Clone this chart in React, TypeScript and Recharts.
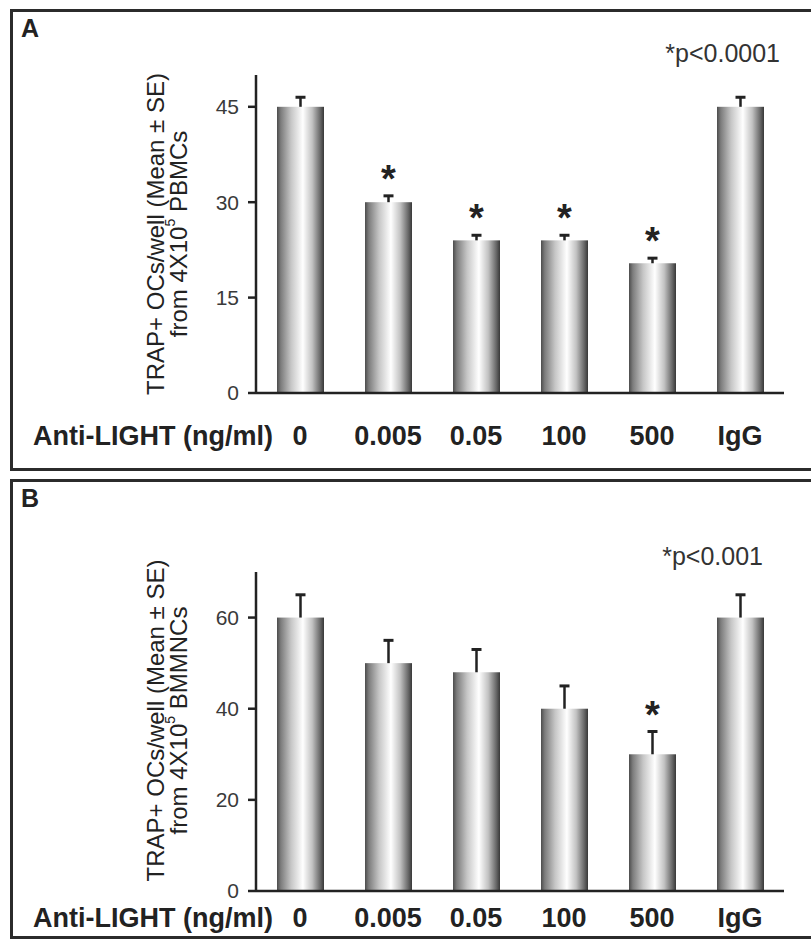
import { Bar, BarChart, Label, XAxis, YAxis } from "recharts";

const doses = ["0", "0.005", "0.05", "100", "500", "IgG"];

// A: PBMC cultures
const pbmcMeans = [45, 30, 24, 24, 20.4, 45];
const pbmcErrors = [1.5, 1, 0.8, 0.8, 0.8, 1.5];
const pbmcSignificant = [false, true, true, true, true, false];
const pbmcTicks = [0, 15, 30, 45];

// B: BMMNC cultures
const bmmncMeans = [60, 50, 48, 40, 30, 60];
const bmmncErrors = [5, 5, 5, 5, 5, 5];
const bmmncSignificant = [false, false, false, false, true, false];
const bmmncTicks = [0, 20, 40, 60];

const FONT = '"Liberation Sans", Arial, Helvetica, sans-serif';
const INK = "#222";

type Row = { dose: string; mean: number; err: number; star: boolean };

function buildRows(means: number[], errors: number[], stars: boolean[]): Row[] {
  return doses.map((dose, i) => ({ dose, mean: means[i], err: errors[i], star: stars[i] }));
}

function GlassBar(props: any) {
  const { x, y, width, height, payload, fillId } = props;
  const cx = x + width / 2;
  // error bar length in pixels, taken from the bar's own scale
  const errPx = payload.mean > 0 ? (height / payload.mean) * payload.err : 0;
  const top = y - errPx;
  return (
    <g>
      <rect x={x} y={y} width={width} height={height} fill={`url(#${fillId})`} />
      <line x1={cx} y1={y} x2={cx} y2={top} stroke={INK} strokeWidth={2.5} />
      <line x1={cx - 5} y1={top} x2={cx + 5} y2={top} stroke={INK} strokeWidth={3} />
      {payload.star && (
        <text
          x={cx}
          y={top - 4}
          textAnchor="middle"
          fontSize={38}
          fontWeight="bold"
          fill={INK}
          fontFamily={FONT}
        >
          *
        </text>
      )}
    </g>
  );
}

function DoseTick({ x, y, payload, dy }: any) {
  return (
    <text
      x={x}
      y={y + dy}
      textAnchor="middle"
      fontSize={27}
      fontWeight="bold"
      fill={INK}
      fontFamily={FONT}
    >
      {payload.value}
    </text>
  );
}

type PanelProps = {
  id: string;
  rows: Row[];
  ticks: number[];
  yMax: number;
  top: number;
  height: number;
  marginTop: number;
  axisHeight: number;
  tickDy: number;
  pText: string;
  pDx: number;
  pDy: number;
  cells: string;
  titleShift: number;
};

function Panel(p: PanelProps) {
  const fillId = `glass-${p.id}`;
  return (
    <div style={{ position: "absolute", left: 0, top: p.top }}>
      <BarChart
        width={811}
        height={p.height}
        data={p.rows}
        margin={{ top: p.marginTop, right: 27, bottom: 0, left: 0 }}
        barSize={47}
      >
        <defs>
          <linearGradient id={fillId} x1="0" y1="0" x2="1" y2="0">
            <stop offset="0%" stopColor="#4c4c4c" />
            <stop offset="8%" stopColor="#7c7c7c" />
            <stop offset="30%" stopColor="#c6c6c6" />
            <stop offset="55%" stopColor="#ffffff" />
            <stop offset="75%" stopColor="#c2c2c2" />
            <stop offset="92%" stopColor="#686868" />
            <stop offset="100%" stopColor="#383838" />
          </linearGradient>
        </defs>
        <XAxis
          dataKey="dose"
          height={p.axisHeight}
          interval={0}
          tickLine={false}
          tickSize={0}
          tickMargin={0}
          axisLine={{ stroke: INK, strokeWidth: 2.5 }}
          tick={<DoseTick dy={p.tickDy} />}
        >
          <Label
            content={(lp: any) => (
              <g fontFamily={FONT}>
                <text
                  x={lp.viewBox.x - 223}
                  y={lp.viewBox.y + p.tickDy}
                  fontSize={27}
                  fontWeight="bold"
                  fill={INK}
                >
                  Anti-LIGHT (ng/ml)
                </text>
                <text
                  x={lp.viewBox.x + lp.viewBox.width + p.pDx}
                  y={p.marginTop + p.pDy}
                  textAnchor="end"
                  fontSize={25}
                  fill="#333"
                >
                  {p.pText}
                </text>
              </g>
            )}
          />
        </XAxis>
        <XAxis
          xAxisId="top"
          orientation="top"
          dataKey="dose"
          height={0}
          tick={false}
          tickLine={false}
          axisLine={{ stroke: INK, strokeWidth: 2.5 }}
        />
        <YAxis
          width={256}
          domain={[0, p.yMax]}
          ticks={p.ticks}
          allowDataOverflow
          tickSize={8}
          tickMargin={9}
          tickLine={{ stroke: INK, strokeWidth: 2.5 }}
          axisLine={{ stroke: INK, strokeWidth: 2.5 }}
          tick={{ fontSize: 21, fill: "#3a3a3a", fontFamily: FONT }}
        >
          <Label
            content={(lp: any) => {
              const cy = lp.viewBox.y + lp.viewBox.height / 2 + p.titleShift;
              return (
                <g fontFamily={FONT} fontSize={24} fill="#222">
                  <text
                    x={155}
                    y={cy}
                    transform={`rotate(-90 155 ${cy})`}
                    textAnchor="middle"
                    dominantBaseline="central"
                  >
                    TRAP+ OCs/well (Mean ± SE)
                  </text>
                  <text
                    x={178}
                    y={cy}
                    transform={`rotate(-90 178 ${cy})`}
                    textAnchor="middle"
                    dominantBaseline="central"
                  >
                    from 4X10
                    <tspan dy={-8} fontSize={14}>
                      5
                    </tspan>
                    <tspan dy={8}> {p.cells}</tspan>
                  </text>
                </g>
              );
            }}
          />
        </YAxis>
        <YAxis
          yAxisId="right"
          orientation="right"
          width={0}
          domain={[0, p.yMax]}
          tick={false}
          tickLine={false}
          axisLine={{ stroke: INK, strokeWidth: 2.5 }}
        />
        <Bar
          dataKey="mean"
          isAnimationActive={false}
          shape={(sp: any) => <GlassBar {...sp} fillId={fillId} />}
        />
      </BarChart>
    </div>
  );
}

const letterStyle = {
  position: "absolute" as const,
  left: 21,
  fontFamily: FONT,
  fontWeight: "bold" as const,
  fontSize: 25,
  lineHeight: "25px",
  color: INK,
};

export default function App() {
  return (
    <div
      style={{
        position: "absolute",
        left: 0,
        top: 0,
        width: 811,
        height: 939,
        overflow: "hidden",
        background: "#fff",
      }}
    >
      <div
        style={{
          position: "absolute",
          left: 10,
          top: 9,
          width: 900,
          height: 462,
          border: "3px solid #2b2b2b",
          boxSizing: "border-box",
        }}
      />
      <div
        style={{
          position: "absolute",
          left: 10,
          top: 479,
          width: 900,
          height: 460,
          border: "3px solid #2b2b2b",
          boxSizing: "border-box",
        }}
      />
      <div style={{ ...letterStyle, top: 16 }}>A</div>
      <div style={{ ...letterStyle, top: 486 }}>B</div>

      <Panel
        id="a"
        rows={buildRows(pbmcMeans, pbmcErrors, pbmcSignificant)}
        ticks={pbmcTicks}
        yMax={50}
        top={0}
        height={470}
        marginTop={75}
        axisHeight={77}
        tickDy={52}
        pText="*p<0.0001"
        pDx={-4}
        pDy={-13}
        cells="PBMCs"
        titleShift={0}
      />
      <Panel
        id="b"
        rows={buildRows(bmmncMeans, bmmncErrors, bmmncSignificant)}
        ticks={bmmncTicks}
        yMax={70}
        top={480}
        height={459}
        marginTop={92}
        axisHeight={48}
        tickDy={36}
        pText="*p<0.001"
        pDx={-21}
        pDy={-7}
        cells="BMMNCs"
        titleShift={-11}
      />
    </div>
  );
}
